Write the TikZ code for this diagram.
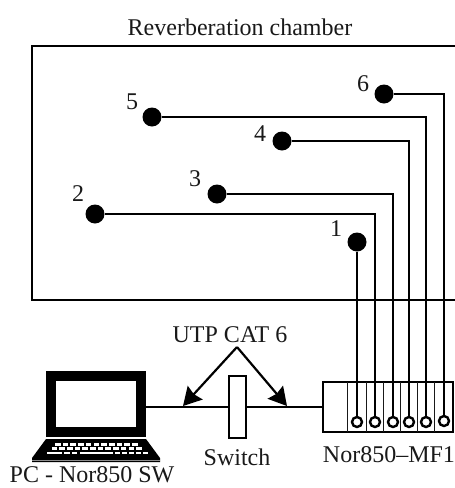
\documentclass[tikz,border=0pt]{standalone}
\usepackage{fontspec}
\setmainfont{Liberation Serif}
\usetikzlibrary{arrows.meta}
\tikzset{
 every node/.style={outer sep=0pt},
 lab/.style={inner sep=0pt,font=\fontsize{24}{26}\selectfont,text=black!90},
 sensor/.style={circle,fill=black,draw=none,minimum size=19pt,inner sep=0pt},
 port/.style={circle,draw=black,line width=2.4pt,fill=white,minimum size=10pt,inner sep=0pt},
 wire/.style={line width=1.7pt,black},
 cell/.style={line width=0.8pt,black!90},
 heavy/.style={line width=2.2pt,black},
 bigarrow/.style={line width=2.2pt,-{Stealth[length=18pt,width=20pt,inset=2pt]}},
 key/.style={fill=white,draw=none}
}
\begin{document}
\begin{tikzpicture}[x=1pt,y=-1pt]
\useasboundingbox (0,0) rectangle (455,488);
% chamber
\draw[heavy] (455,46) -- (32,46) -- (32,300) -- (455,300);
\node[lab] at (240,27) {Reverberation chamber};
% analyser
\node[draw=black,line width=2pt,minimum width=130pt,minimum height=50pt,inner sep=0pt,anchor=north west] (mf) at (323,382) {};
\foreach \x in {347,366,383,400,417,434} \draw[cell] (\x,382) -- (\x,432);
\foreach \n/\x/\y in {p1/357/422,p2/375/422,p3/393/422,p4/409/422,p5/426/422,p6/444/421}
  \node[port] (\n) at (\x,\y) {};
% sensors
\node[sensor] (s1) at (357,242) {};
\node[sensor] (s2) at (95,214) {};
\node[sensor] (s3) at (217,194) {};
\node[sensor] (s4) at (282,141) {};
\node[sensor] (s5) at (152,117) {};
\node[sensor] (s6) at (384,94) {};
\node[lab] at (336,229) {1};
\node[lab] at (78,194) {2};
\node[lab] at (195,179) {3};
\node[lab] at (260,134) {4};
\node[lab] at (132,102) {5};
\node[lab] at (363,84) {6};
\draw[wire] (s1) -- (p1);
\draw[wire] (s2) -| (p2);
\draw[wire] (s3) -| (p3);
\draw[wire] (s4) -| (p4);
\draw[wire] (s5) -| (p5);
\draw[wire] (s6) -| (p6);
% laptop
\node[draw=black,fill=white,line width=10pt,minimum width=90pt,minimum height=56pt,inner sep=0pt,anchor=north west] (pc) at (51,376) {};
\fill[black] (46,439) -- (146,439) -- (160,458) -- (160,462) -- (32,462) -- (32,458) -- cycle;
\fill[black!45] (32,459.5) rectangle (160,461);
\foreach \i in {0,...,10} \fill[key] ({55+\i*7.7},443) rectangle ++(5.6,2.6);
\foreach \i in {0,...,11} \fill[key] ({51.5+\i*7.7},447.2) rectangle ++(5.6,2.6);
\fill[key] (47,451.8) rectangle ++(15,2.6);
\foreach \i in {0,1} \fill[key] ({64+\i*7.7},451.8) rectangle ++(5.6,2.6);
\fill[key] (80,451.8) rectangle ++(33,2.6);
\foreach \i in {0,...,4} \fill[key] ({115+\i*7.0},451.8) rectangle ++(5,2.6);
% switch and network
\node[draw=black,fill=white,line width=1.8pt,minimum width=17pt,minimum height=62pt,inner sep=0pt,anchor=north west] (sw) at (229,376) {};
\coordinate (pcport) at (146,407);
\draw[wire] (sw.east) -- (mf.west);
\draw[wire] (pcport) -- (sw.west);
\coordinate (apex) at (237,347);
\coordinate (tipa) at (183,406);
\coordinate (tipb) at (287,406);
\draw[bigarrow] (apex) -- (tipa);
\draw[bigarrow] (apex) -- (tipb);
\node[lab] at (230,335) {UTP CAT 6};
\node[lab] at (237,457) {Switch};
\node[lab] at (389,455) {Nor850–MF1};
\node[lab] at (92,475) {PC - Nor850 SW};
\end{tikzpicture}
\end{document}
